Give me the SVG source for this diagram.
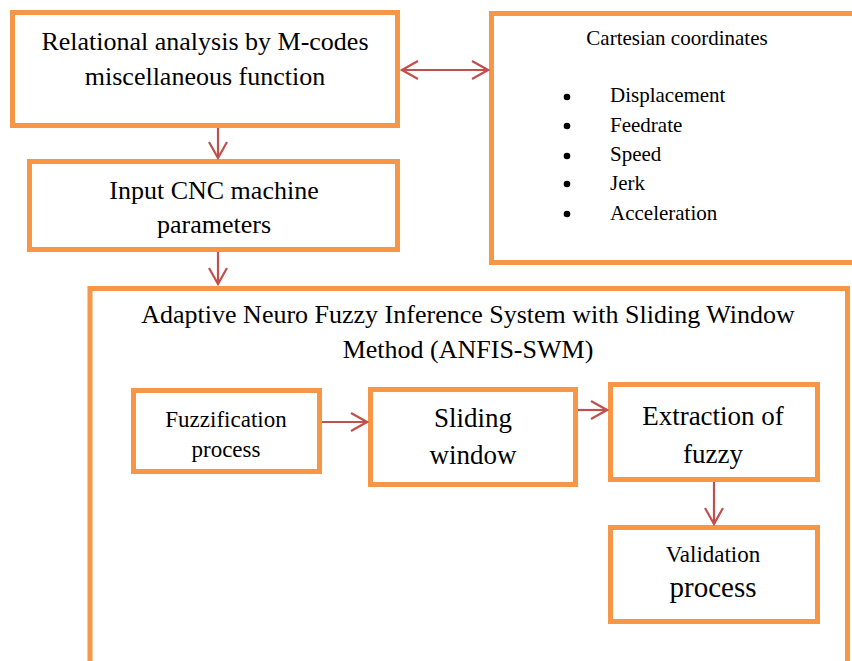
<svg xmlns="http://www.w3.org/2000/svg" width="852" height="661" viewBox="0 0 852 661">
  <style>
    .box { fill: #ffffff; stroke: #f79646; stroke-width: 5; }
    .conn { fill: none; stroke: #c0504d; stroke-width: 2.2; }
  </style>
  <defs>
    <marker id="chev" viewBox="0 0 20 20" refX="18" refY="10" markerWidth="20" markerHeight="20" markerUnits="userSpaceOnUse" orient="auto-start-reverse">
      <path d="M2,1 L18,10 L2,19" fill="none" stroke="#c0504d" stroke-width="2.2"/>
    </marker>
  </defs>

  <!-- outer ANFIS-SWM container, open at the bottom and right page edge -->
  <g id="anfis-swm">
    <path class="box" d="M90,661 L90,288.5 L847.5,288.5 L847.5,661" fill="none"/>
    <text font-family="Liberation Serif" text-anchor="middle" x="468" y="323" font-size="26">Adaptive Neuro Fuzzy Inference System with Sliding Window</text>
    <text font-family="Liberation Serif" text-anchor="middle" x="468" y="358" font-size="26">Method (ANFIS-SWM)</text>
  </g>

  <g id="relational-analysis">
    <rect class="box" x="12.5" y="12.5" width="385" height="113"/>
    <text font-family="Liberation Serif" text-anchor="middle" x="205" y="50" font-size="26">Relational analysis by M-codes</text>
    <text font-family="Liberation Serif" text-anchor="middle" x="205" y="85" font-size="26">miscellaneous function</text>
  </g>

  <g id="input-cnc">
    <rect class="box" x="29.5" y="161.5" width="368" height="88"/>
    <text font-family="Liberation Serif" text-anchor="middle" x="214" y="199" font-size="26">Input CNC machine</text>
    <text font-family="Liberation Serif" text-anchor="middle" x="214" y="233" font-size="26">parameters</text>
  </g>

  <g id="cartesian">
    <path class="box" d="M852,13.5 L491.5,13.5 L491.5,262.5 L852,262.5"/>
    <text font-family="Liberation Serif" text-anchor="middle" x="677" y="45" font-size="21">Cartesian coordinates</text>
    <g fill="#000000">
      <circle cx="567" cy="97" r="3.3"/>
      <circle cx="567" cy="126" r="3.3"/>
      <circle cx="567" cy="156" r="3.3"/>
      <circle cx="567" cy="184" r="3.3"/>
      <circle cx="567" cy="214" r="3.3"/>
    </g>
    <text font-family="Liberation Serif" font-size="21" x="610" y="102">Displacement</text>
    <text font-family="Liberation Serif" font-size="21" x="610" y="132">Feedrate</text>
    <text font-family="Liberation Serif" font-size="21" x="610" y="161">Speed</text>
    <text font-family="Liberation Serif" font-size="21" x="610" y="190">Jerk</text>
    <text font-family="Liberation Serif" font-size="21" x="610" y="220">Acceleration</text>
  </g>

  <g id="fuzzification">
    <rect class="box" x="133.5" y="390.5" width="186" height="81"/>
    <text font-family="Liberation Serif" text-anchor="middle" x="226" y="427" font-size="23">Fuzzification</text>
    <text font-family="Liberation Serif" text-anchor="middle" x="226" y="457" font-size="23">process</text>
  </g>

  <g id="sliding-window">
    <rect class="box" x="370.5" y="389.5" width="205" height="95"/>
    <text font-family="Liberation Serif" text-anchor="middle" x="473" y="427" font-size="27">Sliding</text>
    <text font-family="Liberation Serif" text-anchor="middle" x="473" y="464" font-size="27">window</text>
  </g>

  <g id="extraction">
    <rect class="box" x="610.5" y="384.5" width="207" height="95"/>
    <text font-family="Liberation Serif" text-anchor="middle" x="713" y="425" font-size="27">Extraction of</text>
    <text font-family="Liberation Serif" text-anchor="middle" x="713" y="463" font-size="27">fuzzy</text>
  </g>

  <g id="validation">
    <rect class="box" x="610.5" y="527.5" width="207" height="94"/>
    <text font-family="Liberation Serif" text-anchor="middle" x="713" y="562" font-size="23">Validation</text>
    <text font-family="Liberation Serif" text-anchor="middle" x="713" y="597" font-size="29">process</text>
  </g>

  <g id="connectors">
    <line class="conn" x1="402" y1="70" x2="488" y2="70" marker-start="url(#chev)" marker-end="url(#chev)"/>
    <line class="conn" x1="218" y1="128" x2="218" y2="158" marker-end="url(#chev)"/>
    <line class="conn" x1="218" y1="252" x2="218" y2="284" marker-end="url(#chev)"/>
    <line class="conn" x1="322" y1="422" x2="367" y2="422" marker-end="url(#chev)"/>
    <line class="conn" x1="578" y1="410" x2="607" y2="410" marker-end="url(#chev)"/>
    <line class="conn" x1="714" y1="482" x2="714" y2="524" marker-end="url(#chev)"/>
  </g>
</svg>
